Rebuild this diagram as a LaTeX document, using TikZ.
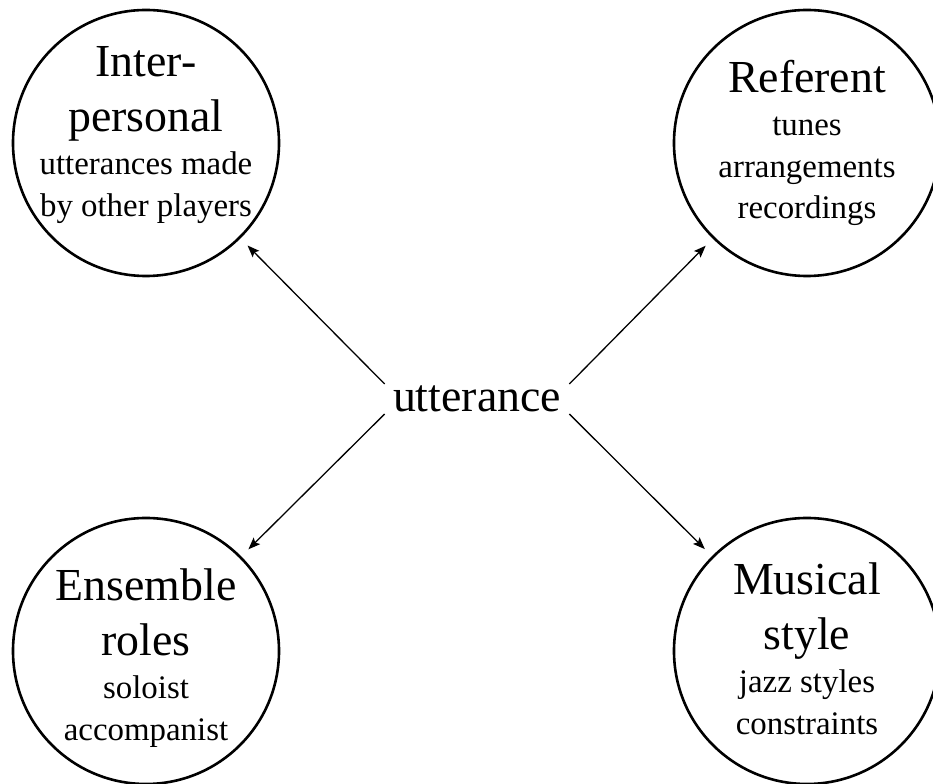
\documentclass[tikz,border=0pt]{standalone}
\usepackage{fontspec}
\setmainfont{Liberation Serif}
\usepackage{tikz}
\usetikzlibrary{shapes,arrows,arrows.meta,positioning}
\newcommand{\headfont}{\fontsize{23}{27.5}\selectfont}
\newcommand{\notefont}{\fontsize{16.5}{20.5}\selectfont}

\begin{document}
\begin{tikzpicture}[
    x=0.5bp, y=0.5bp,
    ring/.style={circle, draw, line width=1.3bp, minimum size=133bp, inner sep=0pt},
    ringtext/.style={align=center, font=\notefont, inner sep=0pt},
    arrow/.style={->, >={Stealth[length=6bp, width=4.6bp, inset=1.2bp]}, line width=0.65bp, shorten >=5bp}
]
\useasboundingbox (0,0) rectangle (933,784);

% Centre
\node[font=\headfont, inner xsep=4bp, inner ysep=0.75bp] (utt) at (477,385) {utterance};

% Inter-personal
\node[ring] (inter) at (146,641) {};
\node[ringtext] (intertext) at ([yshift=4bp]inter.center) {\headfont Inter-\\[7bp]\headfont personal\\[1bp]\notefont utterances made\\[0.5bp]\notefont by other players};

% Referent
\node[ring] (ref) at (807,641) {};
\node[ringtext] (reftext) at (ref.center) {\headfont Referent\\[1bp]\notefont tunes\\[0.5bp]\notefont arrangements\\[0.5bp]\notefont recordings};

% Ensemble roles
\node[ring] (ens) at (146,133) {};
\node[ringtext] (enstext) at ([yshift=-3.5bp]ens.center) {\headfont Ensemble\\[7bp]\headfont roles\\[1bp]\notefont soloist\\[0.5bp]\notefont accompanist};

% Musical style
\node[ring] (mus) at (807,133) {};
\node[ringtext] (mustext) at ([yshift=1bp]mus.center) {\headfont Musical\\[7bp]\headfont style\\[1bp]\notefont jazz styles\\[0.5bp]\notefont constraints};

% Arrows
\draw[arrow] (utt.north west) -- (inter);
\draw[arrow] (utt.north east) -- (ref);
\draw[arrow] (utt.south west) -- (ens);
\draw[arrow] (utt.south east) -- (mus);

\end{tikzpicture}
\end{document}
